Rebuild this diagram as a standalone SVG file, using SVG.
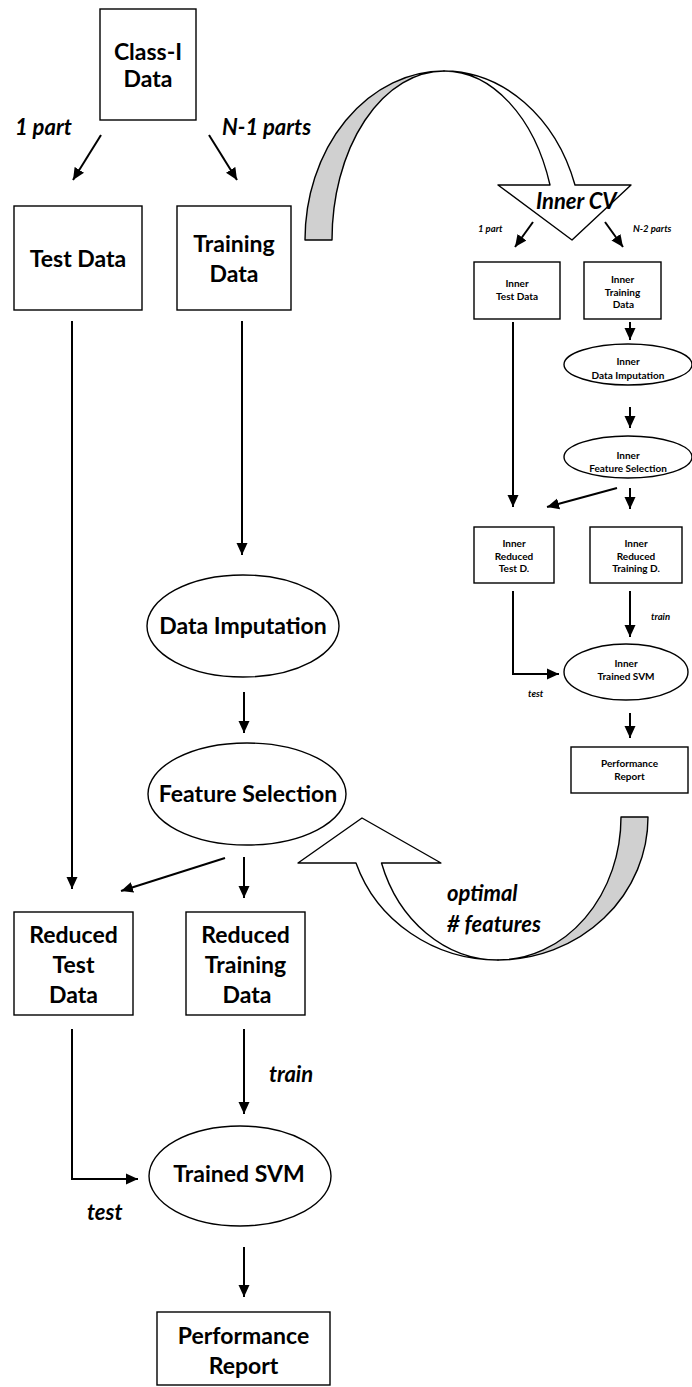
<svg xmlns="http://www.w3.org/2000/svg" width="692" height="1387" viewBox="0 0 692 1387">
<style>
.bx{fill:#fff;stroke:#000;stroke-width:1.4}
.el{fill:#fff;stroke:#000;stroke-width:1.4}
.cn{fill:none;stroke:#000;stroke-width:2}
.t{font-family:Lato,"Open Sans","DejaVu Sans",sans-serif;font-weight:bold;font-size:23px;text-anchor:middle;fill:#000}
.l{font-family:Lato,"Open Sans","DejaVu Sans",sans-serif;font-weight:bold;font-style:italic;font-size:22px;fill:#000}
.s{font-family:Lato,"Open Sans","DejaVu Sans",sans-serif;font-weight:bold;font-size:10px;text-anchor:middle;fill:#000}
.si{font-family:Lato,"Open Sans","DejaVu Sans",sans-serif;font-weight:bold;font-style:italic;font-size:9.5px;fill:#000}
.band{stroke:#000;stroke-width:1.4;stroke-linejoin:round}
</style>
<defs>
<marker id="ah" markerUnits="userSpaceOnUse" markerWidth="12" markerHeight="12" refX="12" refY="6" orient="auto">
<path d="M0,0.5 L12,6 L0,11.5 Z" fill="#000"/>
</marker>
</defs>

<!-- curved arrows -->
<g id="curve-top">
<path class="band" fill="#d0d0d0" d="M305,240 A139,169 0 0 1 444,71 A112,169 0 0 0 332,240 Z"/>
<path class="band" fill="#fff" d="M444,71 A139,169 0 0 1 575,185 L631,185 L572,240 L498,185 L550,185 A112,169 0 0 0 444,71 Z"/>
<text class="l" x="536" y="209">Inner CV</text>
</g>
<g id="curve-bottom">
<path class="band" fill="#d0d0d0" d="M648,817 A150,143 0 0 1 498,960 A123,143 0 0 0 621,817 Z"/>
<path class="band" fill="#fff" d="M498,960 A150,143 0 0 1 356,863 L298,863 L362,818 L441,863 L381.5,863 A123,143 0 0 0 498,960 Z"/>
<text class="l" x="447" y="901">optimal</text>
<text class="l" x="447" y="932"># features</text>
</g>

<!-- main nodes -->
<g id="class-data"><rect class="bx" x="100" y="9" width="96" height="111"/>
<text class="t" x="148" y="60">Class-I</text><text class="t" x="148" y="87">Data</text></g>
<g id="test-data"><rect class="bx" x="14" y="206" width="128" height="104"/>
<text class="t" x="78" y="267">Test Data</text></g>
<g id="training-data"><rect class="bx" x="177" y="206" width="114" height="104"/>
<text class="t" x="234" y="252">Training</text><text class="t" x="234" y="282">Data</text></g>
<g id="data-imputation"><ellipse class="el" cx="243" cy="626" rx="96" ry="51"/>
<text class="t" x="243" y="634">Data Imputation</text></g>
<g id="feature-selection"><ellipse class="el" cx="247" cy="794" rx="99" ry="51"/>
<text class="t" x="248" y="802">Feature Selection</text></g>
<g id="reduced-test"><rect class="bx" x="14" y="912" width="119" height="103"/>
<text class="t" x="73.5" y="943">Reduced</text><text class="t" x="73.5" y="973">Test</text><text class="t" x="73.5" y="1003">Data</text></g>
<g id="reduced-training"><rect class="bx" x="186" y="912" width="119" height="103"/>
<text class="t" x="245.5" y="943">Reduced</text><text class="t" x="245.5" y="973">Training</text><text class="t" x="247" y="1003">Data</text></g>
<g id="trained-svm"><ellipse class="el" cx="240" cy="1176" rx="91" ry="50"/>
<text class="t" x="239" y="1182">Trained SVM</text></g>
<g id="performance-report"><rect class="bx" x="157" y="1312" width="173" height="73"/>
<text class="t" x="243.5" y="1344">Performance</text><text class="t" x="243.5" y="1374">Report</text></g>

<!-- inner nodes -->
<g id="inner-test"><rect class="bx" x="474" y="262" width="86" height="57"/>
<text class="s" x="517" y="287">Inner</text><text class="s" x="517" y="300">Test Data</text></g>
<g id="inner-training"><rect class="bx" x="584" y="262" width="77" height="57"/>
<text class="s" x="622.5" y="283">Inner</text><text class="s" x="622.5" y="296">Training</text><text class="s" x="623.5" y="308">Data</text></g>
<g id="inner-imputation"><ellipse class="el" cx="628" cy="364.5" rx="64" ry="20.5"/>
<text class="s" x="628" y="365">Inner</text><text class="s" x="628" y="379">Data Imputation</text></g>
<g id="inner-feature"><ellipse class="el" cx="628" cy="457" rx="64" ry="21"/>
<text class="s" x="628" y="459">Inner</text><text class="s" x="628" y="472">Feature Selection</text></g>
<g id="inner-reduced-test"><rect class="bx" x="474" y="527" width="80" height="56"/>
<text class="s" x="514" y="547">Inner</text><text class="s" x="514" y="560">Reduced</text><text class="s" x="514" y="572">Test D.</text></g>
<g id="inner-reduced-training"><rect class="bx" x="590" y="527" width="92" height="56"/>
<text class="s" x="636" y="547">Inner</text><text class="s" x="636" y="560">Reduced</text><text class="s" x="636" y="572">Training D.</text></g>
<g id="inner-svm"><ellipse class="el" cx="626" cy="672" rx="62" ry="28"/>
<text class="s" x="626" y="667">Inner</text><text class="s" x="626" y="680">Trained SVM</text></g>
<g id="inner-report"><rect class="bx" x="571" y="747" width="117" height="46"/>
<text class="s" x="629.5" y="767">Performance</text><text class="s" x="629.5" y="780">Report</text></g>

<!-- connectors -->
<g id="connectors">
<line class="cn" x1="101" y1="135" x2="73" y2="180" marker-end="url(#ah)"/>
<line class="cn" x1="209" y1="135" x2="237" y2="180" marker-end="url(#ah)"/>
<line class="cn" x1="242" y1="321" x2="242" y2="555" marker-end="url(#ah)"/>
<line class="cn" x1="72" y1="321" x2="72" y2="889" marker-end="url(#ah)"/>
<line class="cn" x1="244" y1="692" x2="244" y2="733" marker-end="url(#ah)"/>
<line class="cn" x1="225" y1="858" x2="121" y2="891" marker-end="url(#ah)"/>
<line class="cn" x1="244" y1="857" x2="244" y2="898" marker-end="url(#ah)"/>
<polyline class="cn" points="72,1029 72,1179 138,1179" marker-end="url(#ah)"/>
<line class="cn" x1="244" y1="1029" x2="244" y2="1114" marker-end="url(#ah)"/>
<line class="cn" x1="244" y1="1247" x2="244" y2="1297" marker-end="url(#ah)"/>
<line class="cn" x1="533" y1="222" x2="515" y2="247" marker-end="url(#ah)"/>
<line class="cn" x1="605" y1="222" x2="623" y2="247" marker-end="url(#ah)"/>
<line class="cn" x1="513" y1="322" x2="513" y2="507" marker-end="url(#ah)"/>
<line class="cn" x1="630" y1="322" x2="630" y2="340" marker-end="url(#ah)"/>
<line class="cn" x1="630" y1="407" x2="630" y2="428" marker-end="url(#ah)"/>
<line class="cn" x1="630" y1="488" x2="630" y2="509" marker-end="url(#ah)"/>
<line class="cn" x1="617" y1="488" x2="547" y2="507" marker-end="url(#ah)"/>
<line class="cn" x1="630" y1="591" x2="630" y2="637" marker-end="url(#ah)"/>
<polyline class="cn" points="513,591 513,674 559,674" marker-end="url(#ah)"/>
<line class="cn" x1="630" y1="713" x2="630" y2="738" marker-end="url(#ah)"/>
</g>

<!-- edge labels -->
<text class="l" x="15" y="135">1 part</text>
<text class="l" x="222" y="135">N-1 parts</text>
<text class="l" x="269" y="1082">train</text>
<text class="l" x="87" y="1220">test</text>
<text class="si" x="478" y="232">1 part</text>
<text class="si" x="633" y="232">N-2 parts</text>
<text class="si" x="651" y="620">train</text>
<text class="si" x="528" y="697">test</text>
</svg>
